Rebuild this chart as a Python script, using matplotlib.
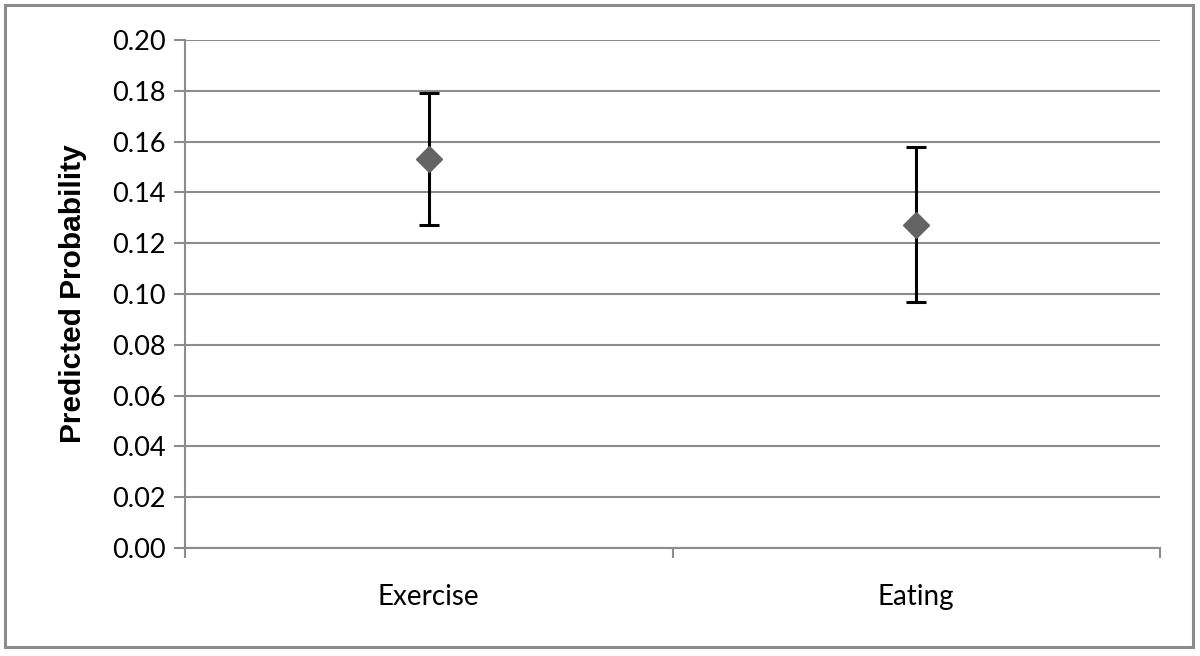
import numpy as np
import matplotlib.pyplot as plt
from matplotlib.patches import Rectangle

plt.rcParams["font.family"] = "Lato"

# Données
categories = ["Exercise", "Eating"]
prob = [0.153, 0.127]
prob_low = [0.127, 0.097]
prob_high = [0.179, 0.158]
yticks = [0.00, 0.02, 0.04, 0.06, 0.08, 0.10, 0.12, 0.14, 0.16, 0.18, 0.20]

gris = "#8c8c8c"

fig = plt.figure(figsize=(12, 6.56), dpi=100)
ax = fig.add_axes([185/1200, 1 - 548/656, (1160-185)/1200, (548-40)/656])

x = np.arange(len(categories)) + 0.5
prob = np.array(prob)
err = [prob - np.array(prob_low), np.array(prob_high) - prob]
ax.errorbar(x, prob, yerr=err, fmt="none", ecolor="black", elinewidth=2.2,
            capsize=7, capthick=2.2, zorder=3)
ax.plot(x, prob, "D", color="#646464", markersize=13, zorder=4, linestyle="none")

ax.set_xlim(0, len(categories))
ax.set_ylim(0, 0.20)
ax.set_yticks(yticks)
ax.set_yticklabels([f"{v:.2f}" for v in yticks], fontsize=19.5)
ax.set_xticks(x)
ax.set_xticklabels(categories, fontsize=20)
ax.tick_params(axis="x", length=0, pad=26)
ax.set_xticks(np.arange(len(categories) + 1), minor=True)
ax.tick_params(axis="x", which="minor", length=7, width=1.5, color=gris, direction="out")
ax.tick_params(axis="y", length=8, width=1.5, color=gris, pad=6)

ax.grid(axis="y", color=gris, linewidth=1.5)
ax.set_axisbelow(True)
for s in ["top", "right"]:
    ax.spines[s].set_visible(False)
ax.spines["left"].set_color(gris)
ax.spines["left"].set_linewidth(1.5)
ax.spines["bottom"].set_color(gris)
ax.spines["bottom"].set_linewidth(1.5)

ax.set_ylabel("Predicted Probability", fontsize=21.5, fontweight="bold",
              family="Liberation Sans", labelpad=18)

# cadre gris autour de la figure
fig.patches.append(Rectangle((5/1200, 1 - 647/656), (1193-5)/1200, (647-5)/656,
                             transform=fig.transFigure, fill=False,
                             edgecolor=gris, linewidth=2.2))

plt.savefig("out.png", dpi=100)
